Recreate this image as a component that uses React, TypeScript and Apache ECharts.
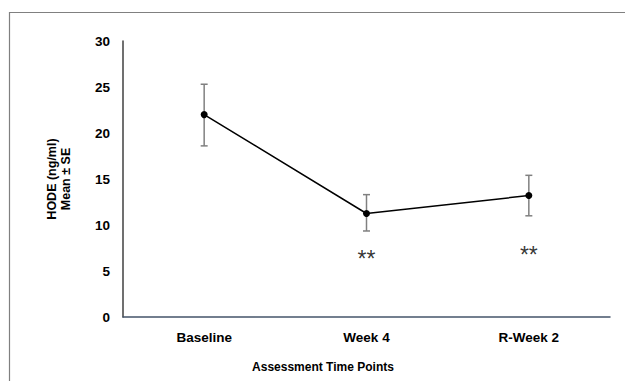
import React, { useEffect, useRef } from "react";
import * as echarts from "echarts";

const categories = ["Baseline", "Week 4", "R-Week 2"];
const means = [22.0, 11.25, 13.2];
const upper = [25.3, 13.3, 15.4];
const lower = [18.6, 9.35, 11.0];
const yTicks = [0, 5, 10, 15, 20, 25, 30];
const starLabels = ["", "**", "**"];
const starY = [0, 6.3, 6.7];
const xTitle = "Assessment Time Points";
const yTitle = "HODE (ng/ml)\nMean ± SE";

export default function App() {
  const ref = useRef<HTMLDivElement>(null);
  useEffect(() => {
    if (!ref.current) return;
    const chart = echarts.init(ref.current, null, { renderer: "svg" });
    const errData = categories.map((c, i) => [i, lower[i], upper[i]]);
    const starData = categories
      .map((c, i) => ({ value: [i, starY[i]], label: starLabels[i] }))
      .filter((d) => d.label !== "");
    chart.setOption({
      animation: false,
      backgroundColor: "#ffffff",
      grid: { left: 123, right: 15, top: 41, bottom: 64 },
      graphic: [
        {
          type: "rect",
          shape: { x: 9.5, y: 12.5, width: 800, height: 600 },
          style: { fill: "none", stroke: "#808080", lineWidth: 1.2 },
          silent: true,
          z: -1,
        },
        {
          type: "text",
          x: 323,
          y: 367,
          style: {
            text: xTitle,
            align: "center",
            verticalAlign: "middle",
            fill: "#000000",
            fontFamily: "Liberation Sans",
            fontWeight: "bold",
            fontSize: 12,
          },
        },
      ],
      xAxis: {
        type: "category",
        data: categories,
        boundaryGap: true,
        axisLine: { show: true, lineStyle: { color: "#44546A", width: 1.5 } },
        axisTick: { show: false },
        axisLabel: {
          margin: 13,
          color: "#000000",
          fontFamily: "Liberation Sans",
          fontWeight: "bold",
          fontSize: 13.5,
        },
      },
      yAxis: {
        type: "value",
        min: 0,
        max: 30,
        interval: 5,
        splitLine: { show: false },
        axisLine: { show: true, lineStyle: { color: "#404040", width: 1.5 } },
        axisTick: { show: false },
        axisLabel: {
          margin: 13,
          color: "#000000",
          fontFamily: "Liberation Sans",
          fontWeight: "bold",
          fontSize: 13.5,
          formatter: (v: number) => (yTicks.includes(v) ? String(v) : ""),
        },
        name: yTitle,
        nameLocation: "middle",
        nameRotate: 90,
        nameGap: 50,
        nameTextStyle: {
          color: "#000000",
          fontFamily: "Liberation Sans",
          fontWeight: "bold",
          fontSize: 12.5,
          lineHeight: 14,
          align: "center",
        },
      },
      series: [
        {
          type: "custom",
          data: errData,
          z: 1,
          renderItem: (params: any, api: any) => {
            const x = api.value(0);
            const lo = api.coord([x, api.value(1)]);
            const hi = api.coord([x, api.value(2)]);
            const cap = 3.5;
            const style = { stroke: "#808080", lineWidth: 1.5 };
            return {
              type: "group",
              children: [
                { type: "line", shape: { x1: lo[0], y1: lo[1], x2: hi[0], y2: hi[1] }, style },
                { type: "line", shape: { x1: hi[0] - cap, y1: hi[1], x2: hi[0] + cap, y2: hi[1] }, style },
                { type: "line", shape: { x1: lo[0] - cap, y1: lo[1], x2: lo[0] + cap, y2: lo[1] }, style },
              ],
            };
          },
        },
        {
          type: "line",
          data: means,
          z: 3,
          symbol: "circle",
          symbolSize: 7,
          itemStyle: { color: "#000000" },
          lineStyle: { color: "#000000", width: 1.5 },
        },
        {
          type: "scatter",
          data: starData.map((d) => d.value),
          symbolSize: 0,
          label: {
            show: true,
            position: "inside",
            formatter: "**",
            color: "#000000",
            fontFamily: "Liberation Sans",
            fontSize: 23,
          },
        },
      ],
    });
    return () => chart.dispose();
  }, []);
  return (
    <div
      ref={ref}
      style={{ position: "fixed", left: 0, top: 0, width: 625, height: 381 }}
    />
  );
}
